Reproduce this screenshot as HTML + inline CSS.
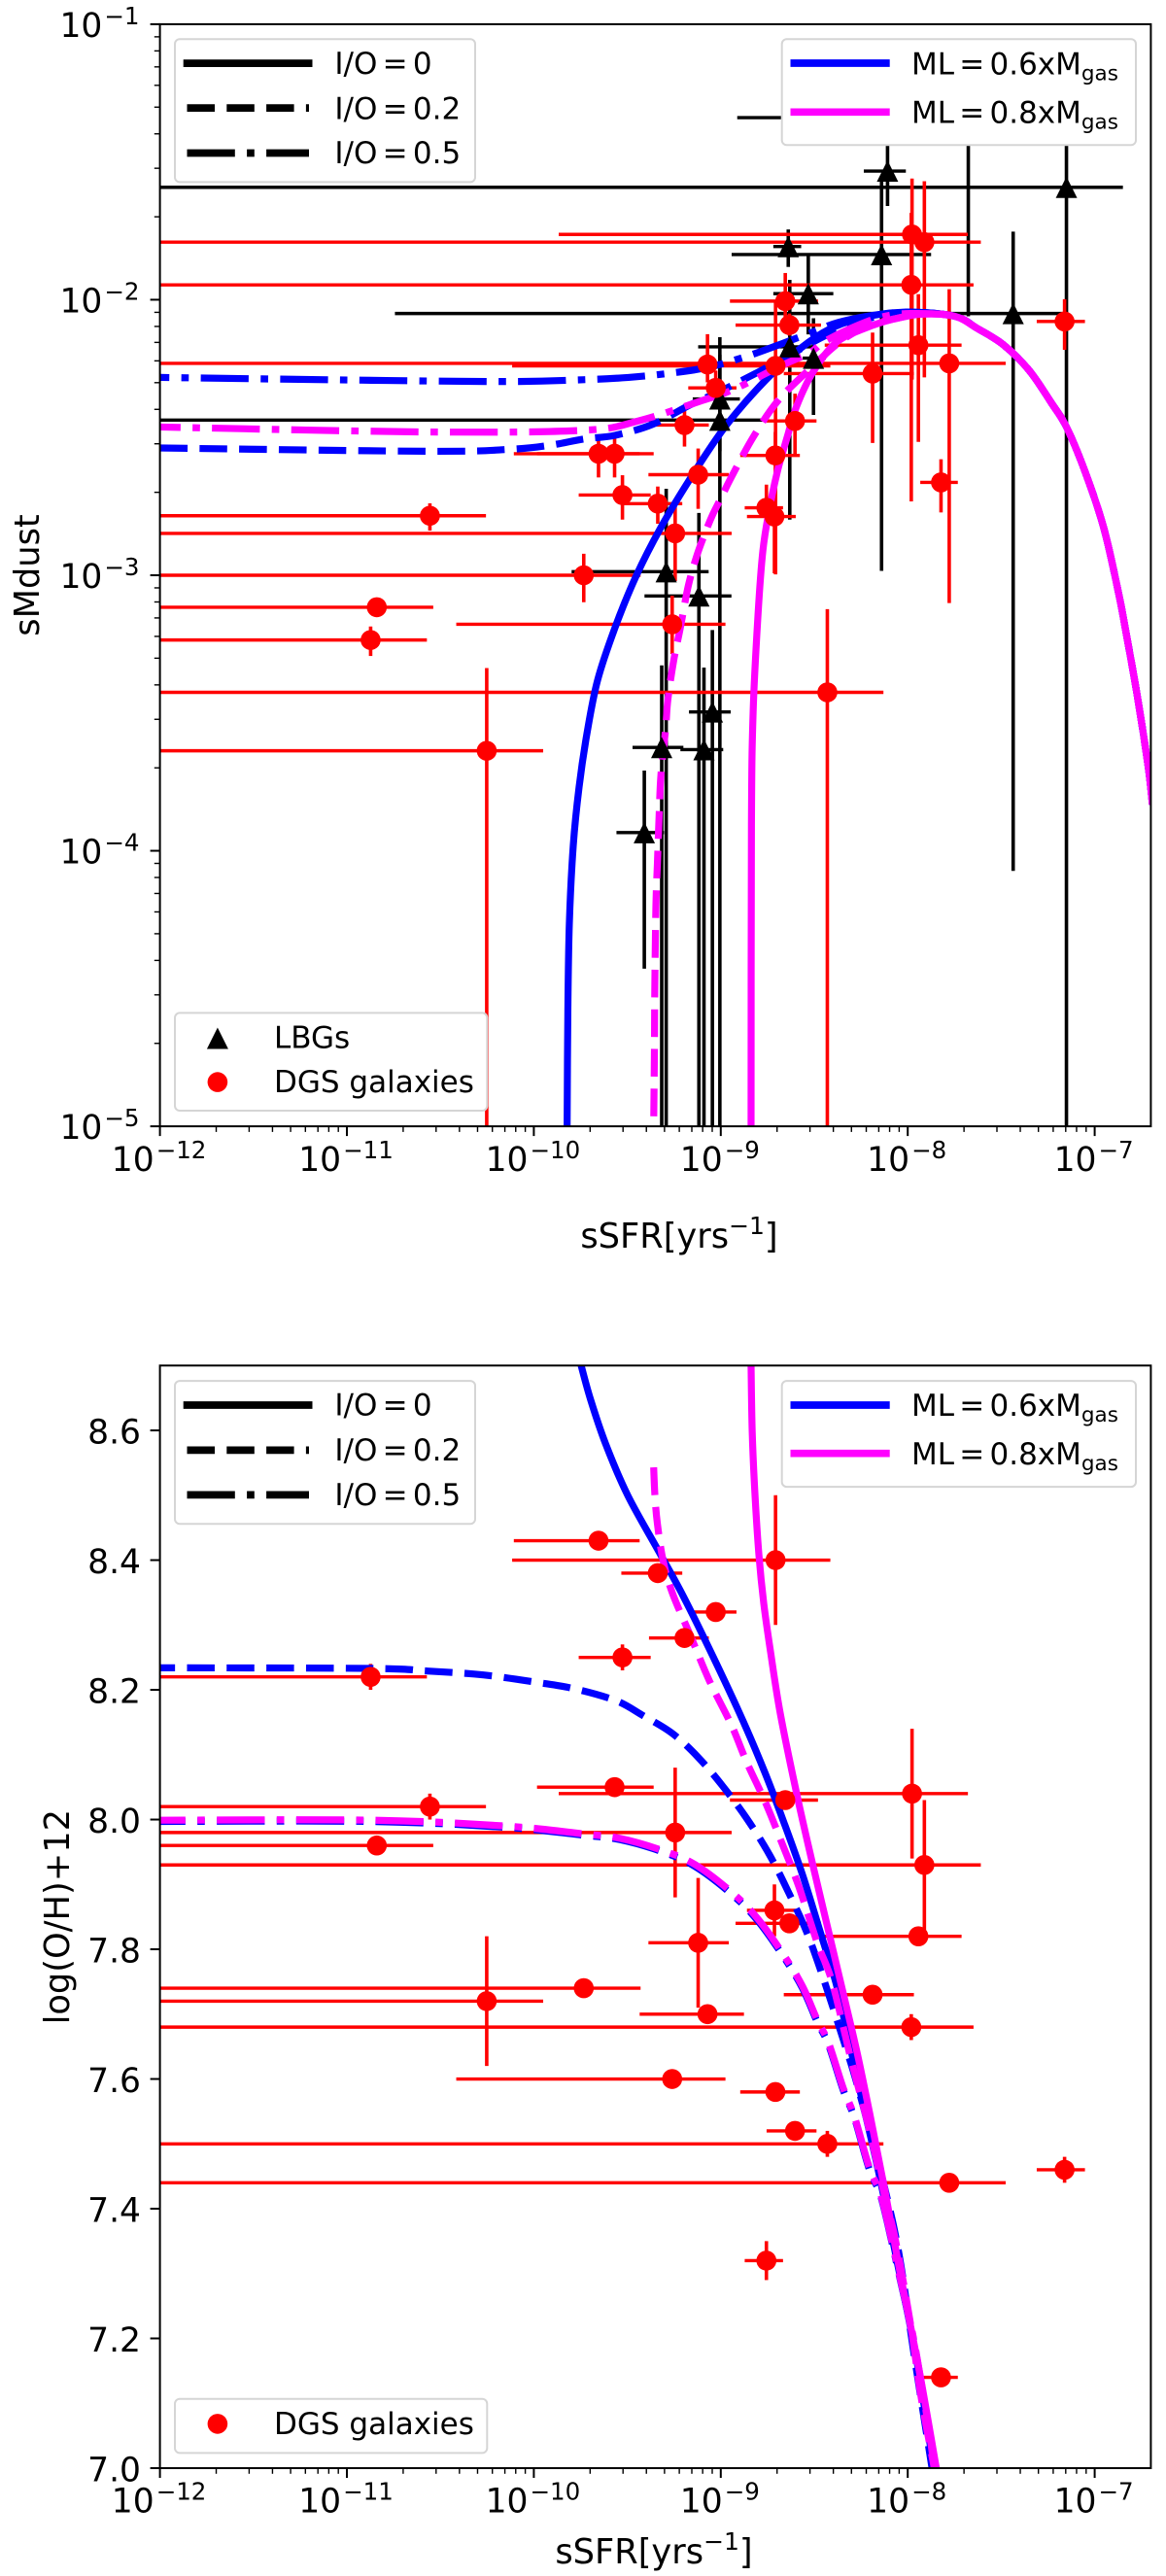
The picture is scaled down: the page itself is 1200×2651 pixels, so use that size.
<!DOCTYPE html>
<html lang="en">
<head>
<meta charset="utf-8">
<title>sMdust and metallicity versus sSFR</title>
<style>
html,body{margin:0;padding:0;background:#fff;}
svg{display:block;position:absolute;left:0;top:0;}
text{font-family:"DejaVu Sans","Liberation Sans",sans-serif;fill:#000;}
.leg{font-size:31px;word-spacing:-4.6px;}
.lab{font-size:35.2px;}
</style>
</head>
<body>
<svg id="figure" xmlns="http://www.w3.org/2000/svg" width="1200" height="2651" viewBox="0 0 1200 2651">
  <rect x="0" y="0" width="1200" height="2651" fill="#fff"/>
  <defs>
    <clipPath id="clip-top"><rect x="164.6" y="24.9" width="1019.8" height="1134.2"/></clipPath>
    <clipPath id="clip-bot"><rect x="164.6" y="1405.3" width="1019.8" height="1134.7"/></clipPath>
  </defs>

  <g id="panel-top">
    <g id="top-marks" clip-path="url(#clip-top)"></g>
    <g id="top-axes"></g>
    <text class="lab" transform="translate(40,592) rotate(-90)" text-anchor="middle">sMdust</text>
    <text class="lab" x="699" y="1284" text-anchor="middle">sSFR[yrs<tspan font-size="25" dy="-14">−1</tspan><tspan dy="14">]</tspan></text>

    <g>
      <rect x="180" y="40.2" width="309" height="147.2" rx="5" fill="#fff" stroke="#d5d5d5" stroke-width="2"/>
      <line x1="188.7" x2="321.5" y1="65.1" y2="65.1" stroke="#000" stroke-width="7.7"/>
      <line x1="192.5" x2="318" y1="111.1" y2="111.1" stroke="#000" stroke-width="7.7" stroke-dasharray="28.5 12.3"/>
      <line x1="192.5" x2="318" y1="157.5" y2="157.5" stroke="#000" stroke-width="7.7" stroke-dasharray="49.3 12.3 7.7 12.3"/>
      <text class="leg" x="344.4" y="75.9">I/O = 0</text>
      <text class="leg" x="344.4" y="122.3">I/O = 0.2</text>
      <text class="leg" x="344.4" y="167.9">I/O = 0.5</text>
    </g>
    <g>
      <rect x="804.7" y="40.2" width="364.3" height="109.1" rx="5" fill="#fff" stroke="#d5d5d5" stroke-width="2"/>
      <line x1="813.5" x2="915.7" y1="65" y2="65" stroke="#0000ff" stroke-width="7.7"/>
      <line x1="813.5" x2="915.7" y1="115.3" y2="115.3" stroke="#ff00ff" stroke-width="7.7"/>
      <text class="leg" x="938" y="76.7">ML = 0.6xM<tspan font-size="21.5" dy="6">gas</tspan></text>
      <text class="leg" x="938" y="126.5">ML = 0.8xM<tspan font-size="21.5" dy="6">gas</tspan></text>
    </g>
    <g>
      <rect x="180" y="1042.4" width="321.3" height="100.6" rx="5" fill="#fff" stroke="#d5d5d5" stroke-width="2"/>
      <polygon points="212.9,1079.5 234.9,1079.5 223.9,1057.5" fill="#000"/>
      <circle cx="223.9" cy="1113.6" r="10.3" fill="#ff0000"/>
      <text class="leg" style="word-spacing:0" x="282" y="1078.4">LBGs</text>
      <text class="leg" style="word-spacing:0" x="282" y="1124">DGS galaxies</text>
    </g>
  </g>

  <g id="panel-bot">
    <g id="bot-marks" clip-path="url(#clip-bot)"></g>
    <g id="bot-axes"></g>
    <text class="lab" transform="translate(70.8,1972.7) rotate(-90)" text-anchor="middle">log(O/H)+12</text>
    <text class="lab" x="673" y="2638" text-anchor="middle">sSFR[yrs<tspan font-size="25" dy="-14">−1</tspan><tspan dy="14">]</tspan></text>

    <g>
      <rect x="180" y="1421.1" width="309" height="147.2" rx="5" fill="#fff" stroke="#d5d5d5" stroke-width="2"/>
      <line x1="188.7" x2="321.5" y1="1446" y2="1446" stroke="#000" stroke-width="7.7"/>
      <line x1="192.5" x2="318" y1="1492.4" y2="1492.4" stroke="#000" stroke-width="7.7" stroke-dasharray="28.5 12.3"/>
      <line x1="192.5" x2="318" y1="1538.4" y2="1538.4" stroke="#000" stroke-width="7.7" stroke-dasharray="49.3 12.3 7.7 12.3"/>
      <text class="leg" x="344.4" y="1456.3">I/O = 0</text>
      <text class="leg" x="344.4" y="1502.8">I/O = 0.2</text>
      <text class="leg" x="344.4" y="1548.8">I/O = 0.5</text>
    </g>
    <g>
      <rect x="804.7" y="1421.1" width="364.3" height="109" rx="5" fill="#fff" stroke="#d5d5d5" stroke-width="2"/>
      <line x1="813.5" x2="915.7" y1="1446" y2="1446" stroke="#0000ff" stroke-width="7.7"/>
      <line x1="813.5" x2="915.7" y1="1495.7" y2="1495.7" stroke="#ff00ff" stroke-width="7.7"/>
      <text class="leg" x="938" y="1457.2">ML = 0.6xM<tspan font-size="21.5" dy="6">gas</tspan></text>
      <text class="leg" x="938" y="1506.9">ML = 0.8xM<tspan font-size="21.5" dy="6">gas</tspan></text>
    </g>
    <g>
      <rect x="180" y="2468.7" width="321.3" height="55.7" rx="5" fill="#fff" stroke="#d5d5d5" stroke-width="2"/>
      <circle cx="223.9" cy="2494.4" r="10.3" fill="#ff0000"/>
      <text class="leg" style="word-spacing:0" x="282" y="2505">DGS galaxies</text>
    </g>
  </g>
</svg>

<script>
// All sSFR and sMdust values are log10 values.
// -13 / -6 mean an error bar that runs past the axis limit.
var dgsLogX = [-10.556,-10.840,-10.873,-10.252,-9.733,-9.654,-9.568,-9.526,-9.337,-9.244,-9.194,-9.121,-9.027,-9.071,-8.707,-7.943,-7.911,-7.977,-7.981,-8.188,-8.655,-8.633,-8.708,-8.603,-8.756,-8.713,-7.822,-7.161,-8.430,-9.260,-7.778];
var dgsLogXLow = [-13,-13,-13,-13,-13,-10.107,-9.983,-9.760,-9.532,-13,-9.384,-9.387,-9.174,-9.434,-10.116,-8.444,-13,-9.867,-13,-8.663,-8.951,-8.921,-8.896,-8.755,-8.872,-8.860,-7.933,-7.310,-13,-10.415,-13];
var dgsLogXHigh = [-10.256,-10.538,-10.572,-9.950,-9.429,-9.434,-9.359,-9.375,-9.206,-8.942,-9.064,-8.957,-8.916,-8.876,-8.414,-7.712,-7.609,-7.678,-7.648,-7.967,-8.480,-8.464,-8.577,-8.488,-8.667,-8.599,-7.732,-7.052,-8.130,-8.975,-7.476];
var dgsLogDust = [-2.784,-3.116,-3.235,-3.637,-3.0,-2.559,-2.559,-2.709,-2.74,-2.848,-2.455,-2.635,-2.32,-2.235,-2.24,-2.165,-1.791,-1.763,-1.946,-2.268,-2.005,-2.092,-2.565,-2.44,-2.755,-2.787,-2.663,-2.079,-3.425,-3.178,-2.231];
var dgsLogDustLow = [-2.838,-3.14,-3.293,-6,-3.098,-2.645,-2.645,-2.798,-2.813,-3.021,-2.533,-2.759,-2.389,-2.30,-2.997,-2.516,-2.282,-2.29,-2.732,-2.52,-2.097,-2.13,-2.66,-2.565,-2.85,-2.993,-2.772,-2.182,-6,-3.286,-3.101];
var dgsLogDustHigh = [-2.739,-3.09,-3.186,-3.337,-2.922,-2.491,-2.491,-2.637,-2.678,-2.746,-2.389,-2.54,-2.257,-2.125,-2.009,-1.98,-1.57,-1.56,-1.685,-2.119,-1.903,-2.05,-2.48,-2.341,-2.671,-2.67,-2.579,-1.998,-3.123,-3.074,-1.962];
var dgsOH = [8.02,7.96,8.22,7.72,7.74,8.43,8.05,8.25,8.38,7.98,8.28,7.81,8.32,7.70,8.40,7.82,7.93,8.04,7.68,7.73,8.03,7.84,7.58,7.52,7.32,7.86,7.14,7.46,7.50,7.60,7.44];
var dgsOHErr = [.02,.01,.02,.10,.01,.01,.01,.02,.01,.10,.01,.10,.01,.01,.10,.01,.10,.10,.02,.01,.01,.01,.01,.01,.03,.04,.01,.02,.02,.01,.01];

var lbgLogX = [-7.676,-8.108,-8.140,-7.151,-7.436,-8.639,-8.532,-8.631,-8.504,-9.005,-9.005,-9.292,-9.117,-9.316,-9.09,-9.045,-9.409];
var lbgLogXLow = [-8.912,-8.235,-8.942,-13,-10.743,-8.719,-8.719,-9.121,-8.562,-13,-9.150,-9.798,-9.408,-9.472,-9.216,-9.17,-9.558];
var lbgLogXHigh = [-6.826,-8.010,-7.875,-6.849,-7.171,-8.570,-8.398,-8.49,-8.438,-8.756,-8.898,-9.065,-8.943,-9.2,-8.987,-8.947,-9.304];
var lbgLogDust = [-1.339,-1.533,-1.836,-1.592,-2.05,-1.807,-1.978,-2.171,-2.212,-2.437,-2.36,-2.987,-3.075,-3.625,-3.633,-3.496,-3.934];
var lbgLogDustLow = [-2.06,-1.66,-2.984,-6,-4.073,-1.881,-2.126,-2.798,-2.418,-6,-2.55,-6,-6,-6,-6,-6,-4.428];
var lbgLogDustHigh = [-1.15,-1.3,-1.554,-1.2,-1.753,-1.745,-1.841,-1.928,-2.067,-2.136,-2.2,-2.686,-2.774,-3.327,-3.335,-3.199,-3.709];

// Model curves, top panel
var dustTailX = [-7.748,-7.628,-7.489,-7.351,-7.232,-7.151,-7.052,-6.952,-6.873,-6.833,-6.773,-6.714,-6.691];
var dustTailY = [-2.06,-2.104,-2.163,-2.256,-2.374,-2.462,-2.623,-2.827,-3.062,-3.205,-3.434,-3.694,-3.832];
var dustBlueSolidX = [-9.822,-9.818,-9.81,-9.789,-9.758,-9.716,-9.659,-9.564,-9.451,-9.321,-9.165,-8.992,-8.836,-8.663,-8.49,-8.351,-8.178,-7.986];
var dustBlueSolidY = [-5.0,-4.58,-4.262,-3.98,-3.769,-3.575,-3.381,-3.187,-3.0,-2.827,-2.651,-2.475,-2.347,-2.228,-2.135,-2.087,-2.056,-2.045];
var dustBlueDashX = [-12,-10.569,-10.13,-9.912,-9.737,-9.565,-9.364,-9.165,-9.009,-8.801,-8.611,-8.455,-8.305,-8.147,-7.986];
var dustBlueDashY = [-2.538,-2.55,-2.543,-2.528,-2.506,-2.492,-2.452,-2.382,-2.334,-2.263,-2.193,-2.135,-2.089,-2.058,-2.045];
var dustBlueDotX = [-12,-11.036,-10.153,-9.721,-9.494,-9.286,-9.072,-8.864,-8.663,-8.507,-8.37,-8.178,-7.986];
var dustBlueDotY = [-2.282,-2.291,-2.297,-2.29,-2.282,-2.268,-2.246,-2.206,-2.157,-2.117,-2.082,-2.056,-2.045];
var dustPinkSolidX = [-8.838,-8.836,-8.827,-8.801,-8.775,-8.741,-8.697,-8.645,-8.594,-8.507,-8.386,-8.23,-8.074,-7.918];
var dustPinkSolidY = [-5.0,-3.91,-3.497,-3.145,-2.912,-2.764,-2.623,-2.499,-2.386,-2.263,-2.157,-2.104,-2.07,-2.052];
var dustPinkDashX = [-9.359,-9.355,-9.353,-9.347,-9.339,-9.33,-9.32,-9.295,-9.283,-9.252,-9.217,-9.174,-9.13,-9.087,-9.044,-8.992,-8.949,-8.827,-8.697,-8.542,-8.37,-8.23,-8.074,-7.918];
var dustPinkDashY = [-5.0,-4.733,-4.504,-4.199,-4.045,-3.874,-3.723,-3.557,-3.451,-3.31,-3.193,-3.039,-2.933,-2.852,-2.781,-2.711,-2.651,-2.499,-2.369,-2.263,-2.157,-2.1,-2.07,-2.052];
var dustPinkDotX = [-12,-10.569,-9.737,-9.442,-9.113,-8.923,-8.682,-8.526,-8.448,-8.305,-8.147,-7.986];
var dustPinkDotY = [-2.462,-2.48,-2.474,-2.44,-2.369,-2.323,-2.241,-2.193,-2.153,-2.104,-2.064,-2.05];

// Model curves, bottom panel
var ohBlueSolidX = [-9.747,-9.697,-9.617,-9.498,-9.329,-9.2,-9.041,-8.881,-8.762,-8.663,-8.563,-8.464,-8.385,-8.339,-8.249,-8.156,-8.06,-7.951,-7.861];
var ohBlueSolidY = [8.70,8.648,8.58,8.5,8.412,8.344,8.251,8.152,8.071,7.996,7.915,7.823,7.749,7.691,7.574,7.457,7.323,7.165,7.0];
var ohPinkSolidX = [-8.838,-8.832,-8.818,-8.796,-8.77,-8.734,-8.682,-8.594,-8.51,-8.427,-8.344,-8.271,-8.202,-8.122,-8.036,-7.937,-7.847];
var ohPinkSolidY = [8.7,8.599,8.506,8.408,8.333,8.259,8.164,8.04,7.933,7.832,7.731,7.641,7.545,7.428,7.294,7.148,7.0];
var ohPinkDashX = [-9.359,-9.352,-9.339,-9.309,-9.26,-9.16,-9.061,-8.942,-8.862,-8.762,-8.683,-8.583,-8.484,-8.404,-8.305,-8.215,-8.126,-8.066,-7.986,-7.927,-7.858];
var ohPinkDashY = [8.543,8.498,8.456,8.4,8.35,8.282,8.214,8.145,8.089,8.027,7.971,7.897,7.81,7.749,7.632,7.533,7.423,7.352,7.224,7.107,7.0];
var ohBlueDashX = [-12,-10.866,-10.569,-10.27,-9.971,-9.773,-9.558,-9.42,-9.26,-9.121,-8.991,-8.862,-8.742,-8.643,-8.544,-8.464,-8.345,-8.265,-8.126,-8.046,-7.967,-7.87];
var ohBlueDashY = [8.234,8.233,8.229,8.223,8.211,8.201,8.183,8.161,8.133,8.096,8.052,8.002,7.947,7.891,7.829,7.766,7.661,7.586,7.435,7.329,7.177,7.0];
var ohBlueDotX = [-12,-10.866,-10.15,-9.737,-9.539,-9.319,-9.14,-8.942,-8.802,-8.663,-8.563,-8.484,-8.424,-8.345,-8.285,-8.205,-8.146,-8.086,-8.046,-7.986,-7.947,-7.887,-7.858];
var ohBlueDotY = [7.997,7.997,7.988,7.976,7.969,7.951,7.928,7.885,7.844,7.788,7.74,7.688,7.653,7.583,7.54,7.46,7.421,7.35,7.298,7.222,7.163,7.058,7.0];
var ohPinkDotX = [-12,-10.866,-10.15,-9.737,-9.539,-9.319,-9.14,-8.942,-8.802,-8.663,-8.563,-8.484,-8.424,-8.345,-8.285,-8.205,-8.146,-8.086,-8.046,-7.986,-7.947,-7.887,-7.858];
var ohPinkDotY = [7.999,7.999,7.99,7.978,7.971,7.953,7.931,7.888,7.847,7.791,7.743,7.691,7.656,7.586,7.542,7.463,7.423,7.352,7.3,7.224,7.165,7.06,7.0];

// Axis ticks and labels
var xTickExponents = [-12,-11,-10,-9,-8,-7];
var xTickLabels = ["−12","−11","−10","−9","−8","−7"];
var dustTickExponents = [-1,-2,-3,-4,-5];
var dustTickLabels = ["−1","−2","−3","−4","−5"];
var ohTicks = [8.6,8.4,8.2,8.0,7.8,7.6,7.4,7.2,7.0];
var ohTickLabels = ["8.6","8.4","8.2","8.0","7.8","7.6","7.4","7.2","7.0"];
var minorMultiples = [2,3,4,5,6,7,8,9];

var SVGNS = "http://www.w3.org/2000/svg";
var LEFT = 164.6, RIGHT = 1184.4, XDEC = 192.4;
var TOP1 = 24.9, BOT1 = 1159.1, TOP2 = 1405.3, BOT2 = 2540;

function xScale(logX) { return LEFT + (logX + 12) * XDEC; }
function dustScale(logY) { return TOP1 + (-1 - logY) * (BOT1 - TOP1) / 4; }
function ohScale(v) { return TOP2 + (8.7 - v) * (BOT2 - TOP2) / 1.7; }

function make(tag, parent, attrs) {
  var el = document.createElementNS(SVGNS, tag);
  for (var k in attrs) el.setAttribute(k, attrs[k]);
  parent.appendChild(el);
  return el;
}

function splinePath(xs, ys, yScale) {
  var p = xs.map(function (x, i) { return [xScale(x), yScale(ys[i])]; });
  var d = "M" + p[0][0].toFixed(2) + " " + p[0][1].toFixed(2);
  for (var i = 0; i < p.length - 1; i++) {
    var a = p[Math.max(i - 1, 0)], b = p[i], c = p[i + 1], e = p[Math.min(i + 2, p.length - 1)];
    var c1x = b[0] + (c[0] - a[0]) / 6, c1y = b[1] + (c[1] - a[1]) / 6;
    var c2x = c[0] - (e[0] - b[0]) / 6, c2y = c[1] - (e[1] - b[1]) / 6;
    d += "C" + c1x.toFixed(2) + " " + c1y.toFixed(2) + " " + c2x.toFixed(2) + " " + c2y.toFixed(2) + " " + c[0].toFixed(2) + " " + c[1].toFixed(2);
  }
  return d;
}

var DASH = "28.5 12.3", DASHDOT = "49.3 12.3 7.7 12.3";

function drawCurve(parent, xs, ys, yScale, color, dash, offset, name) {
  var attrs = { d: splinePath(xs, ys, yScale), fill: "none", stroke: color, "stroke-width": 7.2 };
  if (dash) {
    attrs["stroke-dasharray"] = dash;
    attrs["stroke-dashoffset"] = offset;
  }
  var el = make("path", parent, attrs);
  
  
}

function drawBars(parent, xs, xlo, xhi, ys, ylo, yhi, yScale, color, name) {
  for (var i = 0; i < xs.length; i++) {
    var px = xScale(xs[i]), py = yScale(ys[i]);
    var h = make("line", parent, { x1: xScale(xlo[i]), x2: xScale(xhi[i]), y1: py, y2: py, stroke: color, "stroke-width": 3.4 });
    
    
    var v = make("line", parent, { x1: px, x2: px, y1: yScale(ylo[i]), y2: yScale(yhi[i]), stroke: color, "stroke-width": 3.6 });
    
    
  }
}

function drawDots(parent, xs, ys, yScale) {
  for (var i = 0; i < xs.length; i++) {
    var c = make("circle", parent, { cx: xScale(xs[i]), cy: yScale(ys[i]), r: 10.3, fill: "#ff0000" });
    
    
  }
}

function drawTriangles(parent, xs, ys, yScale) {
  for (var i = 0; i < xs.length; i++) {
    var x = xScale(xs[i]), y = yScale(ys[i]);
    var t = make("polygon", parent, { points: (x - 11) + "," + (y + 11) + " " + (x + 11) + "," + (y + 11) + " " + x + "," + (y - 11), fill: "#000" });
    
    
  }
}

function drawXAxis(parent, bottom, top, labelOffset) {
  xTickExponents.forEach(function (exp, i) {
    var px = xScale(exp);
    var tick = make("line", parent, { x1: px, x2: px, y1: bottom, y2: bottom + 10, stroke: "#000", "stroke-width": 2 });
    
    
    var label = make("text", parent, { x: px - 1, y: bottom + labelOffset, "text-anchor": "middle", "font-size": 34.5 });
    
    
    label.appendChild(document.createTextNode("10"));
    var sup = make("tspan", label, { "font-size": 24.5, dy: -13, dx: 2 });
    sup.textContent = xTickLabels[i];
  });
  for (var d = -12; d <= -7; d++) {
    minorMultiples.forEach(function (m) {
      var lx = d + Math.log10(m);
      if (lx > -6.699) return;
      var px = xScale(lx);
      var tick = make("line", parent, { x1: px, x2: px, y1: bottom, y2: bottom + 5.8, stroke: "#000", "stroke-width": 1.4 });
      
      
    });
  }
  var frame = make("rect", parent, { x: LEFT, y: top, width: RIGHT - LEFT, height: bottom - top, fill: "none", stroke: "#000", "stroke-width": 2 });
  
  
}

function drawDustYAxis(parent) {
  dustTickExponents.forEach(function (exp, i) {
    var py = dustScale(exp);
    var tick = make("line", parent, { x1: LEFT - 10, x2: LEFT, y1: py, y2: py, stroke: "#000", "stroke-width": 2 });
    
    
    var label = make("text", parent, { x: 143.5, y: py + 13, "text-anchor": "end", "font-size": 34.5 });
    
    
    label.appendChild(document.createTextNode("10"));
    var sup = make("tspan", label, { "font-size": 24.5, dy: -13, dx: 2 });
    sup.textContent = dustTickLabels[i];
  });
  for (var d = -5; d <= -2; d++) {
    minorMultiples.forEach(function (m) {
      var py = dustScale(d + Math.log10(m));
      var tick = make("line", parent, { x1: LEFT - 5.8, x2: LEFT, y1: py, y2: py, stroke: "#000", "stroke-width": 1.4 });
      
      
    });
  }
}

function drawOHYAxis(parent) {
  ohTicks.forEach(function (v, i) {
    var py = ohScale(v);
    var tick = make("line", parent, { x1: LEFT - 10, x2: LEFT, y1: py, y2: py, stroke: "#000", "stroke-width": 2 });
    
    
    var label = make("text", parent, { x: 145, y: py + 13.5, "text-anchor": "end", "font-size": 34.5 });
    
    
    label.textContent = ohTickLabels[i];
  });
}

var BLUE = "#0000ff", PINK = "#ff00ff";

// Top panel
var topMarks = document.getElementById("top-marks");
drawBars(topMarks, lbgLogX, lbgLogXLow, lbgLogXHigh, lbgLogDust, lbgLogDustLow, lbgLogDustHigh, dustScale, "#000", "lbg");
drawBars(topMarks, dgsLogX, dgsLogXLow, dgsLogXHigh, dgsLogDust, dgsLogDustLow, dgsLogDustHigh, dustScale, "#ff0000", "dgs");
drawCurve(topMarks, dustBlueSolidX.concat(dustTailX), dustBlueSolidY.concat(dustTailY), dustScale, BLUE, null, 0, "curve-ml06-io0");
drawCurve(topMarks, dustBlueDashX.concat(dustTailX), dustBlueDashY.concat(dustTailY), dustScale, BLUE, DASH, 0, "curve-ml06-io02");
drawCurve(topMarks, dustBlueDotX.concat(dustTailX), dustBlueDotY.concat(dustTailY), dustScale, BLUE, DASHDOT, 39.5, "curve-ml06-io05");
drawCurve(topMarks, dustPinkSolidX.concat(dustTailX), dustPinkSolidY.concat(dustTailY), dustScale, PINK, null, 0, "curve-ml08-io0");
drawCurve(topMarks, dustPinkDashX.concat(dustTailX), dustPinkDashY.concat(dustTailY), dustScale, PINK, DASH, 30.5, "curve-ml08-io02");
drawCurve(topMarks, dustPinkDotX.concat(dustTailX), dustPinkDotY.concat(dustTailY), dustScale, PINK, DASHDOT, 28, "curve-ml08-io05");
drawTriangles(topMarks, lbgLogX, lbgLogDust, dustScale);
drawDots(topMarks, dgsLogX, dgsLogDust, dustScale);
var topAxes = document.getElementById("top-axes");
drawDustYAxis(topAxes);
drawXAxis(topAxes, BOT1, TOP1, 46);

// Bottom panel
var botMarks = document.getElementById("bot-marks");
var ohLow = dgsOH.map(function (v, i) { return v - dgsOHErr[i]; });
var ohHigh = dgsOH.map(function (v, i) { return v + dgsOHErr[i]; });
drawBars(botMarks, dgsLogX, dgsLogXLow, dgsLogXHigh, dgsOH, ohLow, ohHigh, ohScale, "#ff0000", "dgs");
drawCurve(botMarks, ohBlueSolidX, ohBlueSolidY, ohScale, BLUE, null, 0, "curve-oh-ml06-io0");
drawCurve(botMarks, ohBlueDashX, ohBlueDashY, ohScale, BLUE, DASH, 12.9, "curve-oh-ml06-io02");
drawCurve(botMarks, ohBlueDotX, ohBlueDotY, ohScale, BLUE, DASHDOT, 23, "curve-oh-ml06-io05");
drawCurve(botMarks, ohPinkSolidX, ohPinkSolidY, ohScale, PINK, null, 0, "curve-oh-ml08-io0");
drawCurve(botMarks, ohPinkDashX, ohPinkDashY, ohScale, PINK, DASH, 0, "curve-oh-ml08-io02");
drawCurve(botMarks, ohPinkDotX, ohPinkDotY, ohScale, PINK, DASHDOT, 23, "curve-oh-ml08-io05");
drawDots(botMarks, dgsLogX, dgsOH, ohScale);
var botAxes = document.getElementById("bot-axes");
drawOHYAxis(botAxes);
drawXAxis(botAxes, BOT2, TOP2, 45.6);
</script>
</body>
</html>
